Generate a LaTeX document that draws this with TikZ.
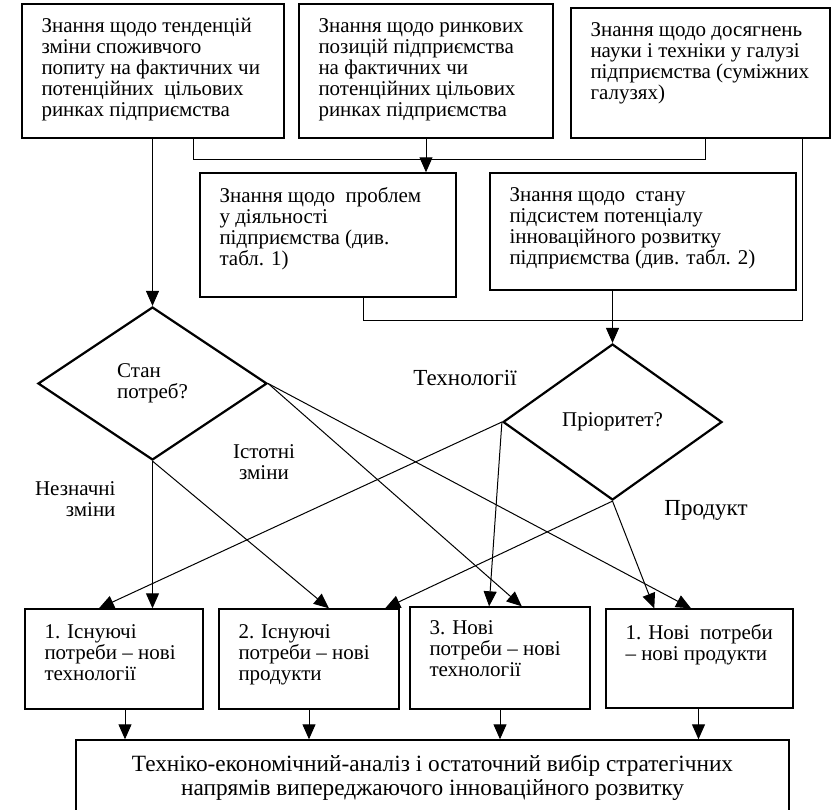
\documentclass[tikz,border=0pt]{standalone}
\usepackage{fontspec}
\setmainfont{Liberation Serif}
\usepackage{tikz}
\usetikzlibrary{shapes.geometric, arrows.meta, calc}

\begin{document}
\begin{tikzpicture}[
        x=1pt, y=-1pt,
        every node/.style={font=\fontsize{21}{21}\selectfont},
        box/.style={draw, line width=1.4pt, inner sep=0pt},
        txt/.style={align=left, inner sep=0pt, anchor=north west},
        dmd/.style={draw, diamond, line width=2.2pt, inner sep=0pt, align=left},
        lbl/.style={font=\fontsize{23}{24}\selectfont},
        arr/.style={-{Triangle[length=15pt, width=13pt]}, line width=1pt},
        lnk/.style={line width=1pt}
    ]
        \useasboundingbox (0,0) rectangle (834,809);
        \clip (0,0) rectangle (834,809);

        % Upper row: sources of knowledge
        \node[box, minimum width=262pt, minimum height=134pt] (A) at (153,71) {};
        \node[txt] (A-t) at ([shift={(20,15)}]A.north west)
            {Знання щодо тенденцій\\зміни споживчого\\попиту на фактичних чи\\потенційних\ \ цільових\\ринках підприємства};
        \node[box, minimum width=254pt, minimum height=134pt] (B) at (426,71) {};
        \node[txt] (B-t) at ([shift={(20,15)}]B.north west)
            {Знання щодо ринкових\\позицій підприємства\\на фактичних чи\\потенційних цільових\\ринках підприємства};
        \node[box, minimum width=259pt, minimum height=130pt] (C) at (700.5,73) {};
        \node[txt] (C-t) at ([shift={(20,15)}]C.north west)
            {Знання щодо досягнень\\науки і техніки у галузі\\підприємства (суміжних\\галузях)};

        % Second row
        \node[box, minimum width=256pt, minimum height=124pt] (D) at (328,235) {};
        \node[txt] (D-t) at ([shift={(20,15)}]D.north west)
            {Знання щодо\ \ проблем\\у діяльності\\підприємства (див.\\табл. 1)};
        \node[box, minimum width=306pt, minimum height=117pt] (E) at (643,231.5) {};
        \node[txt] (E-t) at ([shift={(20,15)}]E.north west)
            {Знання щодо\ \ стану\\підсистем потенціалу\\інноваційного розвитку\\підприємства (див. табл. 2)};

        % Joining lines
        \coordinate (j1) at (193,159);
        \coordinate (j2) at (705,159);
        \draw[lnk] (A.south -| j1) -- (j1) -- (j2) -- (C.south -| j2);
        \draw[arr] (B.south) -- (B.south |- D.north);
        \coordinate (j3) at (363,320);
        \coordinate (j4) at (802,320);
        \draw[lnk] (D.south -| j3) -- (j3) -- (j4) -- (C.south -| j4);

        % Decisions
        \node[dmd, minimum width=229pt, minimum height=153pt] (potr) at (152.5,383.5) {Стан\\потреб?};
        \node[dmd, minimum width=219pt, minimum height=156pt] (pri) at (612.5,422) {Пріоритет?};
        \draw[arr] (A.south -| potr.north) -- (potr.north);
        \draw[arr] (E.south -| pri.north) -- (pri.north);

        \node[lbl] (tech) at (465,378) {Технології};
        \node[lbl] (prod) at (706,510) {Продукт};
        \node[align=center] (sut) at (264,462) {Істотні\\зміни};
        \node[align=right, anchor=east] (nez) at (119,499) {Незначні\\зміни};

        % Lower row: strategy types
        \node[box, minimum width=178pt, minimum height=100pt] (R1) at (114,659) {};
        \node[txt] (R1-t) at ([shift={(20,16)}]R1.north west)
            {1. Існуючі\\потреби – нові\\технології};
        \node[box, minimum width=180pt, minimum height=100pt] (R2) at (309,659) {};
        \node[txt] (R2-t) at ([shift={(20,16)}]R2.north west)
            {2. Існуючі\\потреби – нові\\продукти};
        \node[box, minimum width=180pt, minimum height=102pt] (R3) at (500,658) {};
        \node[txt] (R3-t) at ([shift={(20,14)}]R3.north west)
            {3. Нові\\потреби – нові\\технології};
        \node[box, minimum width=187pt, minimum height=99pt] (R4) at (699.5,658.5) {};
        \node[txt] (R4-t) at ([shift={(20,16)}]R4.north west)
            {1. Нові\ \ потреби\\– нові продукти};

        % Branches
        \draw[arr] (potr.south) -- (potr.south |- R1.north);
        \draw[arr] (potr.south) -- ($(R2.north west)!0.61!(R2.north east)$);
        \draw[arr] (potr.east) -- ($(R3.north west)!0.62!(R3.north east)$);
        \draw[arr] (potr.east) -- ($(R4.north west)!0.455!(R4.north east)$);
        \draw[arr] (pri.west) -- ($(R1.north west)!0.416!(R1.north east)$);
        \draw[arr] (pri.west) -- ($(R3.north west)!0.44!(R3.north east)$);
        \draw[arr] (pri.south) -- ($(R2.north west)!0.92!(R2.north east)$);
        \draw[arr] (pri.south) -- ($(R4.north west)!0.26!(R4.north east)$);

        % Final choice (runs past the lower edge)
        \node[box, minimum width=713pt, minimum height=76pt, align=center,
              font=\fontsize{23.3}{24}\selectfont] (F) at (432.5,778)
            {Техніко-економічний-аналіз і остаточний вибір стратегічних\\напрямів випереджаючого інноваційного розвитку};
        \foreach \r/\dx in {R1/11, R2/0, R3/0, R4/-1} {
            \path ($(\r.south)+(\dx,0)$) coordinate (\r-o);
            \draw[arr] (\r-o) -- (\r-o |- F.north);
        }
    \end{tikzpicture}
\end{document}
